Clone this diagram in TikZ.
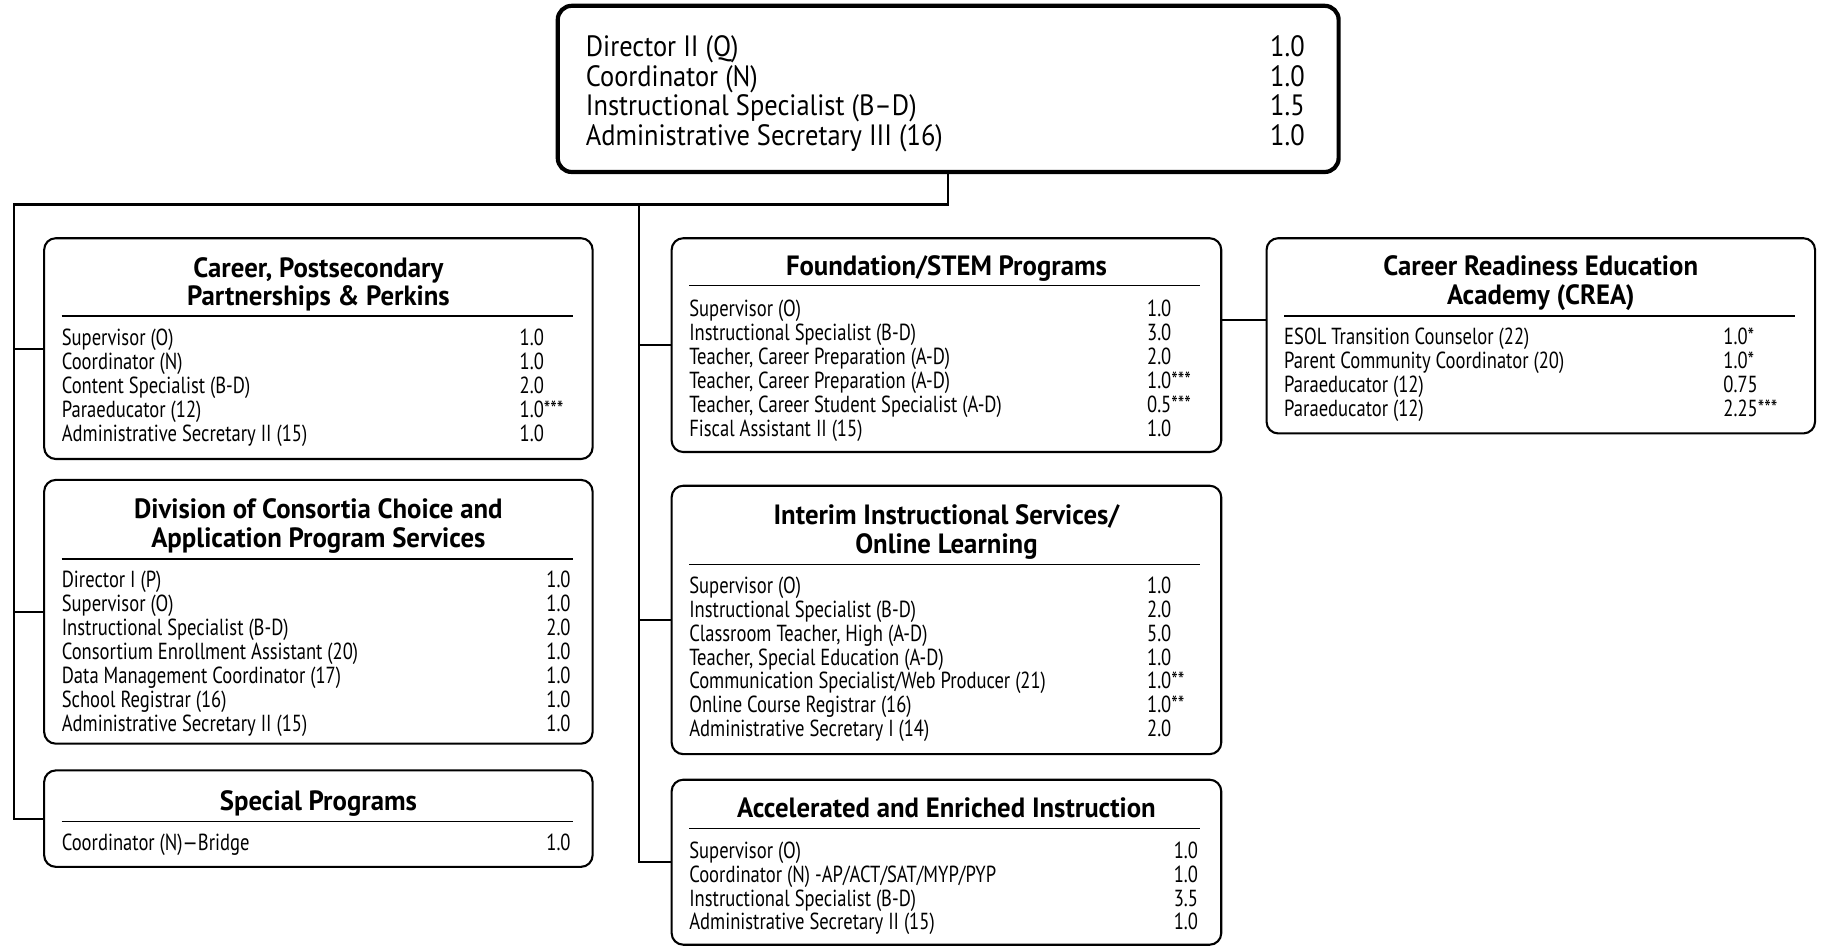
\documentclass[tikz,border=0pt]{standalone}
\usepackage{fontspec}
\setmainfont{PT Sans}
\newfontfamily\itemfont{PT Sans}[FakeStretch=0.8, Ligatures=TeX]
\newfontfamily\titlefont{PT Sans}[FakeStretch=0.96, Ligatures=TeX]
\newfontfamily\topfont{PT Sans}[FakeStretch=0.9, Ligatures=TeX]
\tikzset{
  x=1pt, y=-1pt,
  box/.style={draw, line width=1.8pt, rounded corners=10pt, inner sep=0pt, minimum width=#1},
  box/.default=472pt,
  topbox/.style={draw, line width=3.6pt, rounded corners=12pt, inner sep=0pt},
  conn/.style={line width=1.8pt},
  rulel/.style={line width=1pt},
  ttl/.style={font=\titlefont\bfseries\fontsize{24}{24.5}\selectfont, anchor=base, inner sep=0pt},
  lst/.style={font=\itemfont\fontsize{20}{20.6}\selectfont, anchor=base west, inner sep=0pt},
  toplst/.style={font=\topfont\fontsize{25.3}{25}\selectfont, anchor=base west, inner sep=0pt},
}
\newcommand{\rows}[1]{\begin{tabular}[t]{@{}l@{}}#1\end{tabular}}
\newcommand{\trows}[1]{\begin{tabular}[t]{@{}c@{}}#1\end{tabular}}
\begin{document}
\begin{tikzpicture}
\useasboundingbox (0,0) rectangle (1568,815);

% top box
\node[topbox, minimum width=672pt, minimum height=143pt] (top) at (816,76.5) {};
\node[toplst] (topL) at (504,48.5) {\rows{Director II (Q)\\Coordinator (N)\\Instructional Specialist (B–D)\\Administrative Secretary III (16)}};
\node[toplst, anchor=base east] (topN) at (1123,48.5) {\begin{tabular}[t]{@{}r@{}}1.0\\1.0\\1.5\\1.0\end{tabular}};

% Career
\node[box, minimum height=190pt] (career) at (274,300) {};
\node[ttl] (careerT) at (274,238.5) {\trows{Career, Postsecondary\\Partnerships \& Perkins}};
\draw[rulel] (53,272) -- (493,272);
\node[lst] (careerL) at (53,297.5) {\rows{Supervisor (O)\\Coordinator (N)\\Content Specialist (B-D)\\Paraeducator (12)\\Administrative Secretary II (15)}};
\node[lst] (careerN) at (447,297.5) {\rows{1.0\\1.0\\2.0\\1.0***\\1.0}};

% Division
\node[box, minimum height=227pt] (div) at (274,526.5) {};
\node[ttl] (divT) at (274,446.5) {\trows{Division of Consortia Choice and\\Application Program Services}};
\draw[rulel] (53,481) -- (493,481);
\node[lst] (divL) at (53,505.5) {\rows{Director I (P)\\Supervisor (O)\\Instructional Specialist (B-D)\\Consortium Enrollment Assistant (20)\\Data Management Coordinator (17)\\School Registrar (16)\\Administrative Secretary II (15)}};
\node[lst] (divN) at (470,505.5) {\rows{1.0\\1.0\\2.0\\1.0\\1.0\\1.0\\1.0}};

% Special
\node[box, minimum height=83pt] (spec) at (274,704.5) {};
\node[ttl] (specT) at (274,697.5) {\trows{Special Programs}};
\draw[rulel] (53,707) -- (493,707);
\node[lst] (specL) at (53,731.5) {\rows{Coordinator (N)—Bridge}};
\node[lst] (specN) at (470,731.5) {\rows{1.0}};

% Foundation
\node[box=473pt, minimum height=184pt] (found) at (814.5,297) {};
\node[ttl] (foundT) at (814.5,237.5) {\trows{Foundation/STEM Programs}};
\draw[rulel] (593,246) -- (1033,246);
\node[lst] (foundL) at (593,272.5) {\rows{Supervisor (O)\\Instructional Specialist (B-D)\\Teacher, Career Preparation (A-D)\\Teacher, Career Preparation (A-D)\\Teacher, Career Student Specialist (A-D)\\Fiscal Assistant II (15)}};
\node[lst] (foundN) at (987,272.5) {\rows{1.0\\3.0\\2.0\\1.0***\\0.5***\\1.0}};

% Interim
\node[box=473pt, minimum height=231pt] (inter) at (814.5,533.5) {};
\node[ttl] (interT) at (814.5,451.5) {\trows{Interim Instructional Services/\\Online Learning}};
\draw[rulel] (593,486) -- (1033,486);
\node[lst] (interL) at (593,510.5) {\rows{Supervisor (O)\\Instructional Specialist (B-D)\\Classroom Teacher, High (A-D)\\Teacher, Special Education (A-D)\\Communication Specialist/Web Producer (21)\\Online Course Registrar (16)\\Administrative Secretary I (14)}};
\node[lst] (interN) at (987,510.5) {\rows{1.0\\2.0\\5.0\\1.0\\1.0**\\1.0**\\2.0}};

% Accelerated
\node[box=473pt, minimum height=142pt] (accel) at (814.5,742) {};
\node[ttl] (accelT) at (814.5,703.5) {\trows{Accelerated and Enriched Instruction}};
\draw[rulel] (593,713) -- (1033,713);
\node[lst] (accelL) at (593,738.5) {\rows{Supervisor (O)\\Coordinator (N) -AP/ACT/SAT/MYP/PYP\\Instructional Specialist (B-D)\\Administrative Secretary II (15)}};
\node[lst] (accelN) at (1010,738.5) {\rows{1.0\\1.0\\3.5\\1.0}};

% CREA
\node[box, minimum height=168pt] (crea) at (1326,289) {};
\node[ttl] (creaT) at (1326,237.5) {\trows{Career Readiness Education\\Academy (CREA)}};
\draw[rulel] (1105,272) -- (1545,272);
\node[lst] (creaL) at (1105,296.5) {\rows{ESOL Transition Counselor (22)\\Parent Community Coordinator (20)\\Paraeducator (12)\\Paraeducator (12)}};
\node[lst] (creaN) at (1483,296.5) {\rows{1.0*\\1.0*\\0.75\\2.25***}};

% connectors
\coordinate (busL) at (12,176);
\coordinate (busM) at (550,176);
\draw[conn] (top.south) |- (busL) -- (busL |- spec.west) -- (spec.west);
\draw[conn] (busL |- career.west) -- (career.west);
\draw[conn] (busL |- div.west) -- (div.west);
\draw[conn] (busM) -- (busM |- accel.west) -- (accel.west);
\draw[conn] (busM |- found.west) -- (found.west);
\draw[conn] (busM |- inter.west) -- (inter.west);
\coordinate (fc) at (found.east |- 0,275);
\draw[conn] (fc) -- (fc -| crea.west);
\end{tikzpicture}
\end{document}
